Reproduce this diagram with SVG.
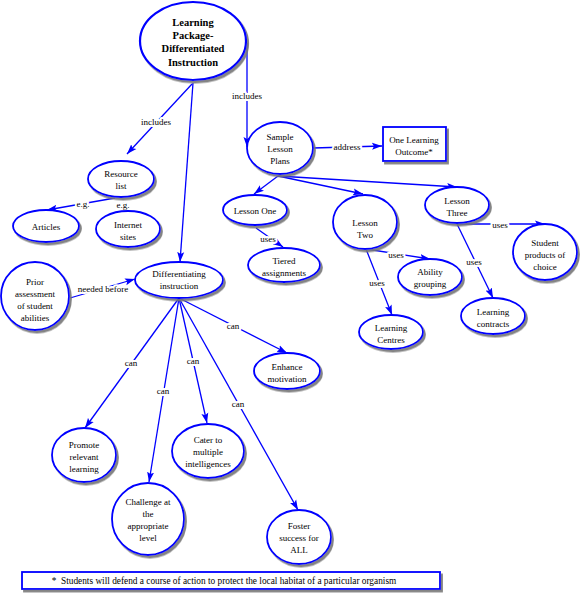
<svg xmlns="http://www.w3.org/2000/svg" width="580" height="601" viewBox="0 0 580 601">
<style>
.n ellipse,.n rect{fill:#fff;stroke:#0000ff;stroke-width:1.8;filter:url(#sh)}
.n text{font-family:"Liberation Serif","Times New Roman",serif;font-size:9px;text-anchor:middle;fill:#000}
.n text.b{font-size:10.5px;font-weight:bold}
#edges line{stroke:#0000ff;stroke-width:1.3;fill:none}
#edges line.a{marker-end:url(#ah)}
#edges text{font-family:"Liberation Serif","Times New Roman",serif;font-size:9px;text-anchor:middle;fill:#000;stroke:#fff;stroke-width:4;paint-order:stroke;stroke-linejoin:round}
</style>
<defs>
<filter id="sh" x="-20%" y="-20%" width="150%" height="150%">
<feDropShadow dx="2" dy="2.5" stdDeviation="0.7" flood-color="#777" flood-opacity="0.9"/>
</filter>
<marker id="ah" markerUnits="userSpaceOnUse" markerWidth="11" markerHeight="8" refX="10" refY="4" orient="auto">
<path d="M0,0.5 L10,4 L0,7.5 L2,4 z" fill="#0000ff"/>
</marker>
</defs>
<rect width="580" height="601" fill="#fff"/>
<g id="edges">
<line class="a" x1="247" y1="43" x2="247" y2="147"/>
<text x="247" y="99">includes</text>
<line class="a" x1="313" y1="148" x2="382" y2="146"/>
<text x="347" y="150">address</text>
<line class="a" x1="278" y1="176" x2="254" y2="194"/>
<line class="a" x1="278" y1="176" x2="363" y2="194"/>
<line class="a" x1="278" y1="176" x2="457" y2="187"/>
<line class="a" x1="256" y1="228" x2="283" y2="247"/>
<text x="268" y="242">uses</text>
<line class="a" x1="366" y1="249" x2="430" y2="259"/>
<text x="396" y="258">uses</text>
<line class="a" x1="366" y1="249" x2="392" y2="315"/>
<text x="377" y="286">uses</text>
<line class="a" x1="457" y1="224" x2="545" y2="224"/>
<text x="500" y="228">uses</text>
<line class="a" x1="457" y1="224" x2="493" y2="298"/>
<text x="474" y="265">uses</text>
<line class="a" x1="192" y1="84" x2="127" y2="154"/>
<text x="156" y="125">includes</text>
<line class="a" x1="115" y1="198" x2="47" y2="210"/>
<text x="83" y="207">e.g.</text>
<line x1="123" y1="203" x2="125" y2="209"/>
<text x="123" y="208">e.g.</text>
<line class="a" x1="193" y1="83" x2="180" y2="262"/>
<line class="a" x1="70" y1="298" x2="135" y2="279"/>
<text x="103" y="292">needed before</text>
<line class="a" x1="179" y1="298" x2="287" y2="353"/>
<text x="233" y="329">can</text>
<line class="a" x1="179" y1="298" x2="85" y2="428"/>
<text x="131" y="366">can</text>
<line class="a" x1="179" y1="298" x2="149" y2="482"/>
<text x="163" y="394">can</text>
<line class="a" x1="179" y1="298" x2="207" y2="423"/>
<text x="193" y="364">can</text>
<line class="a" x1="179" y1="298" x2="298" y2="510"/>
<text x="238" y="407">can</text>
</g>
<g id="main" class="n">
<ellipse cx="193" cy="41" rx="53" ry="39" style="stroke-width:2.2"/>
<text class="b" x="193" y="26">Learning</text>
<text class="b" x="193" y="39">Package-</text>
<text class="b" x="193" y="52">Differentiated</text>
<text class="b" x="193" y="66">Instruction</text>
</g>
<g id="sample" class="n">
<ellipse cx="280" cy="148" rx="33" ry="26"/>
<text x="280" y="140">Sample</text>
<text x="280" y="152">Lesson</text>
<text x="280" y="164">Plans</text>
</g>
<g id="outcome" class="n">
<rect x="383" y="127" width="63" height="34"/>
<text x="414" y="143">One Learning</text>
<text x="414" y="155">Outcome*</text>
</g>
<g id="lesson1" class="n">
<ellipse cx="255" cy="210" rx="32" ry="15"/>
<text x="255" y="214">Lesson One</text>
</g>
<g id="lesson2" class="n">
<ellipse cx="365" cy="222" rx="32" ry="27"/>
<text x="365" y="226">Lesson</text>
<text x="365" y="238">Two</text>
</g>
<g id="lesson3" class="n">
<ellipse cx="457" cy="205" rx="32" ry="18"/>
<text x="457" y="204">Lesson</text>
<text x="457" y="216">Three</text>
</g>
<g id="tiered" class="n">
<ellipse cx="284" cy="265" rx="36" ry="17"/>
<text x="284" y="264">Tiered</text>
<text x="284" y="276">assignments</text>
</g>
<g id="ability" class="n">
<ellipse cx="430" cy="277" rx="32" ry="18"/>
<text x="430" y="275">Ability</text>
<text x="430" y="287">grouping</text>
</g>
<g id="centres" class="n">
<ellipse cx="391" cy="332" rx="32" ry="17"/>
<text x="391" y="331">Learning</text>
<text x="391" y="343">Centres</text>
</g>
<g id="products" class="n">
<ellipse cx="545" cy="252" rx="32" ry="28"/>
<text x="545" y="246">Student</text>
<text x="545" y="258">products of</text>
<text x="545" y="270">choice</text>
</g>
<g id="contracts" class="n">
<ellipse cx="493" cy="316" rx="32" ry="18"/>
<text x="493" y="315">Learning</text>
<text x="493" y="327">contracts</text>
</g>
<g id="resource" class="n">
<ellipse cx="121" cy="179" rx="33" ry="18"/>
<text x="121" y="177">Resource</text>
<text x="121" y="189">list</text>
</g>
<g id="articles" class="n">
<ellipse cx="46" cy="226" rx="33" ry="16"/>
<text x="46" y="230">Articles</text>
</g>
<g id="internet" class="n">
<ellipse cx="128" cy="229" rx="32" ry="18"/>
<text x="128" y="228">Internet</text>
<text x="128" y="240">sites</text>
</g>
<g id="diff" class="n">
<ellipse cx="179" cy="280" rx="44" ry="18"/>
<text x="179" y="277">Differentiating</text>
<text x="179" y="289">instruction</text>
</g>
<g id="prior" class="n">
<ellipse cx="35" cy="296" rx="34" ry="34"/>
<text x="35" y="285">Prior</text>
<text x="35" y="297">assessment</text>
<text x="35" y="309">of student</text>
<text x="35" y="321">abilities</text>
</g>
<g id="enhance" class="n">
<ellipse cx="287" cy="371" rx="33" ry="18"/>
<text x="287" y="370">Enhance</text>
<text x="287" y="382">motivation</text>
</g>
<g id="promote" class="n">
<ellipse cx="84" cy="455" rx="32" ry="27"/>
<text x="84" y="448">Promote</text>
<text x="84" y="460">relevant</text>
<text x="84" y="472">learning</text>
</g>
<g id="challenge" class="n">
<ellipse cx="148" cy="519" rx="36" ry="36"/>
<text x="148" y="505">Challenge at</text>
<text x="148" y="517">the</text>
<text x="148" y="529">appropriate</text>
<text x="148" y="541">level</text>
</g>
<g id="cater" class="n">
<ellipse cx="208" cy="451" rx="36" ry="27"/>
<text x="208" y="443">Cater to</text>
<text x="208" y="455">multiple</text>
<text x="208" y="467">intelligences</text>
</g>
<g id="foster" class="n">
<ellipse cx="299" cy="537" rx="32" ry="27"/>
<text x="299" y="529">Foster</text>
<text x="299" y="541">success for</text>
<text x="299" y="553">ALL</text>
</g>
<g id="footer" class="n">
<rect x="22" y="572" width="418" height="17"/>
<text x="224" y="584" style="font-size:9.3px;white-space:pre">*  Students will defend a course of action to protect the local habitat of a particular organism</text>
</g>
</svg>
